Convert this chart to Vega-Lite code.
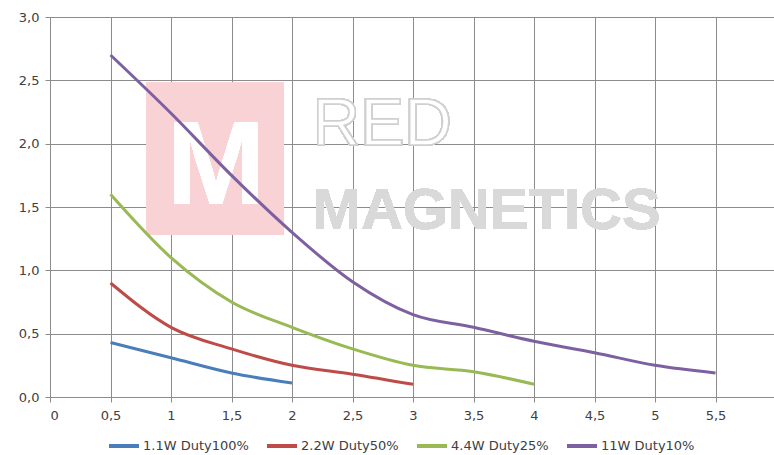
{
  "$schema": "https://vega.github.io/schema/vega-lite/v6.json",
  "width": 726,
  "height": 380,
  "autosize": {"type": "none"},
  "padding": {"left": 50, "top": 17, "right": 0, "bottom": 58},
  "background": "white",
  "config": {
    "view": {"stroke": null},
    "font": "DejaVu Sans",
    "axis": {
      "gridColor": "#8c8c8c",
      "gridOpacity": 1,
      "gridWidth": 1,
      "domainColor": "#8c8c8c",
      "domainWidth": 1,
      "tickColor": "#8c8c8c",
      "tickSize": 5,
      "labelFont": "DejaVu Sans",
      "labelFontSize": 13,
      "labelColor": "#404040",
      "title": null,
      "zindex": 1
    }
  },
  "data": {
    "values": [
      {"series": "1.1W Duty100%", "x": 0.5, "y": 0.43},
      {"series": "1.1W Duty100%", "x": 1.0, "y": 0.31},
      {"series": "1.1W Duty100%", "x": 1.5, "y": 0.19},
      {"series": "1.1W Duty100%", "x": 2.0, "y": 0.11},
      {"series": "2.2W Duty50%", "x": 0.5, "y": 0.9},
      {"series": "2.2W Duty50%", "x": 1.0, "y": 0.55},
      {"series": "2.2W Duty50%", "x": 1.5, "y": 0.38},
      {"series": "2.2W Duty50%", "x": 2.0, "y": 0.25},
      {"series": "2.2W Duty50%", "x": 2.5, "y": 0.18},
      {"series": "2.2W Duty50%", "x": 3.0, "y": 0.1},
      {"series": "4.4W Duty25%", "x": 0.5, "y": 1.6},
      {"series": "4.4W Duty25%", "x": 1.0, "y": 1.1},
      {"series": "4.4W Duty25%", "x": 1.5, "y": 0.75},
      {"series": "4.4W Duty25%", "x": 2.0, "y": 0.55},
      {"series": "4.4W Duty25%", "x": 2.5, "y": 0.38},
      {"series": "4.4W Duty25%", "x": 3.0, "y": 0.25},
      {"series": "4.4W Duty25%", "x": 3.5, "y": 0.2},
      {"series": "4.4W Duty25%", "x": 4.0, "y": 0.1},
      {"series": "11W Duty10%", "x": 0.5, "y": 2.7},
      {"series": "11W Duty10%", "x": 1.0, "y": 2.24},
      {"series": "11W Duty10%", "x": 1.5, "y": 1.75},
      {"series": "11W Duty10%", "x": 2.0, "y": 1.3},
      {"series": "11W Duty10%", "x": 2.5, "y": 0.91},
      {"series": "11W Duty10%", "x": 3.0, "y": 0.65},
      {"series": "11W Duty10%", "x": 3.5, "y": 0.55},
      {"series": "11W Duty10%", "x": 4.0, "y": 0.44},
      {"series": "11W Duty10%", "x": 4.5, "y": 0.35},
      {"series": "11W Duty10%", "x": 5.0, "y": 0.25},
      {"series": "11W Duty10%", "x": 5.5, "y": 0.19}
    ]
  },
  "encoding": {
    "x": {
      "type": "quantitative",
      "scale": {"domain": [0, 6], "nice": false, "zero": true},
      "axis": {
        "values": [0, 0.5, 1, 1.5, 2, 2.5, 3, 3.5, 4, 4.5, 5, 5.5, 6],
        "labelExpr": "datum.value >= 6 ? '' : replace(toString(datum.value), '.', ',')",
        "labelPadding": 7,
        "grid": true
      }
    },
    "y": {
      "type": "quantitative",
      "scale": {"domain": [0, 3], "nice": false},
      "axis": {
        "values": [0, 0.5, 1, 1.5, 2, 2.5, 3],
        "labelExpr": "replace(format(datum.value, '.1f'), '.', ',')",
        "labelPadding": 6,
        "grid": true
      }
    }
  },
  "layer": [
    {
      "mark": {"type": "rect", "color": "#f9d2d5"},
      "encoding": {
        "x": {"datum": 0.8, "type": "quantitative"},
        "x2": {"datum": 1.93},
        "y": {"datum": 2.48, "type": "quantitative"},
        "y2": {"datum": 1.28}
      }
    },
    {
      "mark": {"type": "text", "text": "M", "font": "Liberation Sans", "fontWeight": "bold", "fontSize": 118, "color": "white", "align": "center", "baseline": "alphabetic"},
      "encoding": {
        "x": {"datum": 1.37, "type": "quantitative"},
        "y": {"datum": 1.52, "type": "quantitative"}
      }
    },
    {
      "mark": {"type": "text", "text": "RED", "font": "Liberation Sans", "fontSize": 66, "fill": "white", "stroke": "#d0d0d0", "strokeWidth": 1.5, "align": "left", "baseline": "alphabetic"},
      "encoding": {
        "x": {"datum": 2.17, "type": "quantitative"},
        "y": {"datum": 1.99, "type": "quantitative"}
      }
    },
    {
      "mark": {"type": "text", "text": "MAGNETICS", "font": "Liberation Sans", "fontWeight": "bold", "fontSize": 58, "color": "#d9d9d9", "align": "left", "baseline": "alphabetic"},
      "encoding": {
        "x": {"datum": 2.17, "type": "quantitative"},
        "y": {"datum": 1.33, "type": "quantitative"}
      }
    },
    {
      "mark": {"type": "line", "interpolate": "monotone", "strokeWidth": 3},
      "encoding": {
        "x": {"field": "x", "type": "quantitative"},
        "y": {"field": "y", "type": "quantitative"},
        "color": {
          "field": "series",
          "type": "nominal",
          "sort": null,
          "scale": {
            "domain": ["1.1W Duty100%", "2.2W Duty50%", "4.4W Duty25%", "11W Duty10%"],
            "range": ["#4a7ebb", "#be4b48", "#98b954", "#7d60a0"]
          },
          "legend": {
            "title": null,
            "orient": "none",
            "legendX": 57,
            "legendY": 412,
            "direction": "horizontal",
            "symbolType": "stroke",
            "symbolStrokeWidth": 4,
            "symbolSize": 900,
            "labelFontSize": 13,
            "labelColor": "#404040",
            "labelFont": "DejaVu Sans",
            "labelOffset": 2,
            "columnPadding": 10
          }
        }
      }
    }
  ]
}
